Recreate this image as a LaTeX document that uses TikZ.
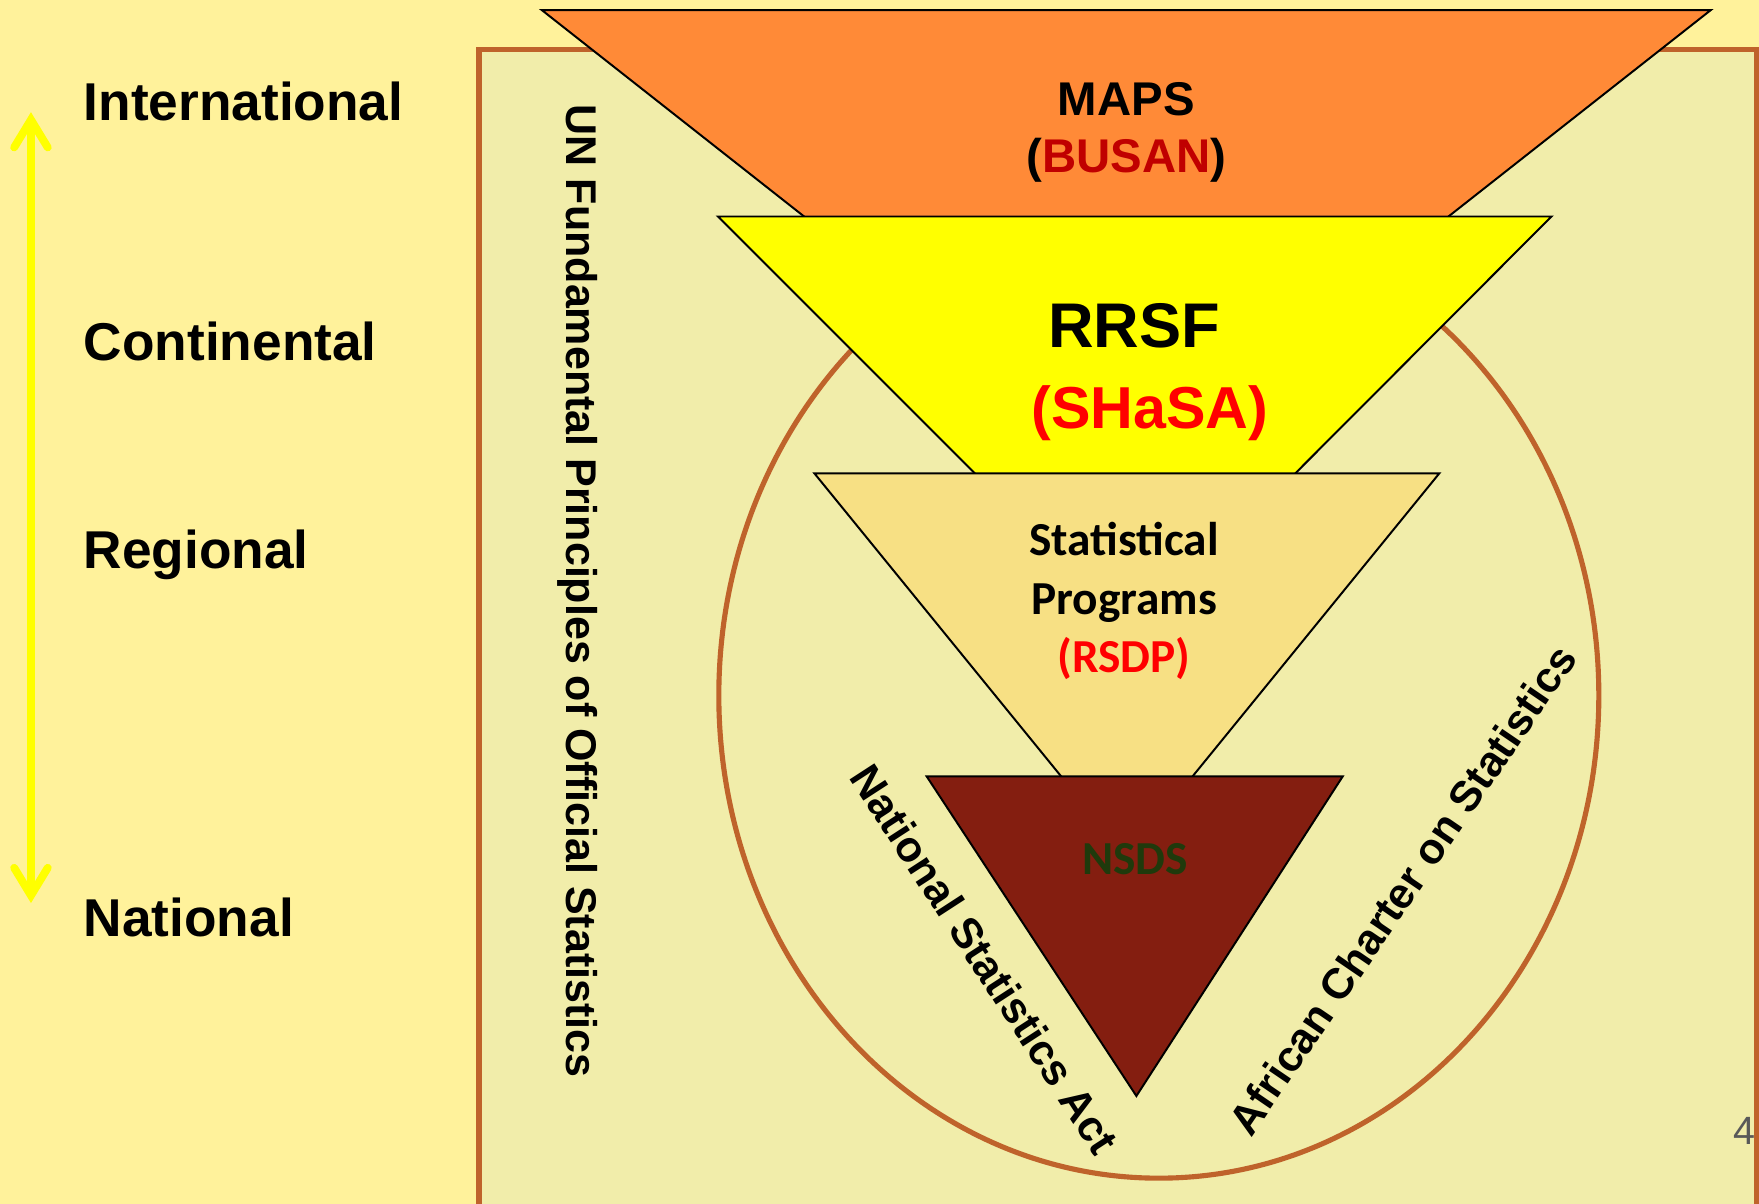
\documentclass[tikz,border=0pt]{standalone}
\usepackage{fontspec}
\setmainfont{Liberation Sans}
\newfontfamily\calfont{Carlito}
\usetikzlibrary{arrows.meta}
\definecolor{bgout}{HTML}{FFF29B}
\definecolor{bgin}{HTML}{F1EDAA}
\definecolor{rim}{HTML}{BF632B}
\definecolor{mapsor}{HTML}{FF8A37}
\definecolor{pureyellow}{RGB}{255,255,0}
\definecolor{progs}{HTML}{F7E084}
\definecolor{nsdsred}{HTML}{841E10}
\definecolor{nsdsgreen}{HTML}{1F3A0C}
\definecolor{busan}{HTML}{C00000}
\definecolor{shasa}{HTML}{FF0000}
\definecolor{pagegray}{HTML}{595959}
\begin{document}
\begin{tikzpicture}[x=0.01cm,y=-0.01cm,
  lvl/.style={font=\fontsize{13.5}{16}\selectfont\bfseries, anchor=base west, inner sep=0pt},
  tri/.style={draw=black, line width=0.5pt},
  bigtxt/.style={font=\fontsize{#1}{#1}\selectfont\bfseries, inner sep=0pt},
  caltxt/.style={font=\calfont\fontsize{12}{14.8}\selectfont\bfseries, inner sep=0pt, align=center},
  rottxt/.style={font=\fontsize{10.9}{13}\selectfont\bfseries, inner sep=0pt},
  yarrow/.style={draw=pureyellow, line width=2pt, {Straight Barb[length=7pt,width=8.5pt,line cap=round]}-{Straight Barb[length=7pt,width=8.5pt,line cap=round]}}
]
\useasboundingbox (0,0) rectangle (1568,1073);
\fill[bgout] (0,0) rectangle (1568,1073);
\begin{scope}
\clip (0,0) rectangle (1568,1073);
\filldraw[fill=bgin, draw=rim, line width=1.35pt] (427,44) rectangle (1566,1110);
\end{scope}
% ellipse
\draw[rim, line width=1.3pt] (1033,620) ellipse [x radius=3.92cm, y radius=4.30cm];
% funnel triangles
\filldraw[tri, fill=mapsor] (483,9) -- (1525,9) -- (1004,419) -- cycle;
\filldraw[tri, fill=pureyellow] (640,193) -- (1383,193) -- (1012,565) -- cycle;
\filldraw[tri, fill=progs] (726,422) -- (1283,422) -- (1004.5,764) -- cycle;
\filldraw[tri, fill=nsdsred] (826,692) -- (1197,692) -- (1013,977) -- cycle;
% left levels
\node[lvl] (intl) at (74,107) {International};
\node[lvl] (cont) at (74,321) {Continental};
\node[lvl] (reg) at (74,507) {Regional};
\node[lvl] (nat) at (74,835) {National};
\coordinate (atop) at (27.6,100);
\coordinate (abot) at (27.6,805);
\draw[yarrow] (atop) -- (abot);
% funnel texts
\node[bigtxt=12] (maps) at (1004,88) {MAPS};
\node[bigtxt=12] (busan) at (1004,143) {(\textcolor{busan}{BUSAN})};
\node[bigtxt=16] (rrsf) at (1011,290) {RRSF};
\node[bigtxt=15, text=shasa] (shasa) at (1025,368) {(SHaSA)};
\node[caltxt] (progs) at (1002,536) {Statistical\\Programs\\\textcolor{shasa}{(RSDP)}};
\node[caltxt, text=nsdsgreen] (nsds) at (1012,766) {NSDS};
% rotated texts
\node[rottxt, rotate=-90] (un) at (515,527) {UN Fundamental Principles of Official Statistics};
\node[rottxt, rotate=-57] (act) at (878,855) {National Statistics Act};
\node[rottxt, rotate=55.7] (charter) at (1250,793) {African Charter on Statistics};
% page number
\node[font=\fontsize{10}{12}\selectfont, text=pagegray, inner sep=0pt] (pg) at (1555,1008) {4};
\end{tikzpicture}
\end{document}
